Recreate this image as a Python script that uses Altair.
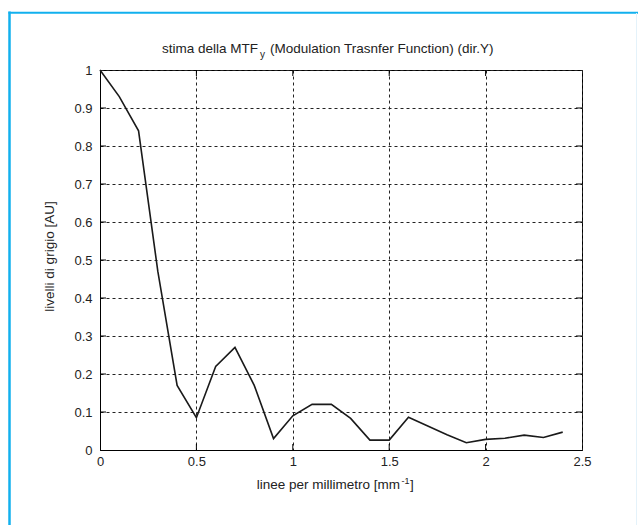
import altair as alt
import pandas as pd

# data
freq = [0.0, 0.1, 0.2, 0.3, 0.4, 0.5, 0.6, 0.7, 0.8, 0.9, 1.0, 1.1, 1.2,
        1.3, 1.4, 1.5, 1.6, 1.7, 1.8, 1.9, 2.0, 2.1, 2.2, 2.3, 2.4]
mtf = [1.0, 0.93, 0.84, 0.47, 0.17, 0.085, 0.22, 0.27, 0.17, 0.03, 0.09, 0.12, 0.12,
       0.083, 0.026, 0.026, 0.086, 0.063, 0.04, 0.019, 0.028, 0.031, 0.039, 0.033, 0.047]
x_ticks = [0, 0.5, 1, 1.5, 2, 2.5]
y_ticks = [0, 0.1, 0.2, 0.3, 0.4, 0.5, 0.6, 0.7, 0.8, 0.9, 1]
x_inner = [0.5, 1, 1.5, 2]
y_inner = [0.1, 0.2, 0.3, 0.4, 0.5, 0.6, 0.7, 0.8, 0.9]

title_main = "stima della MTF"
title_sub = "y"
title_rest = "(Modulation Trasnfer Function) (dir.Y)"
xtitle_main = "linee per millimetro [mm"
xtitle_sup = "-1"
xtitle_end = "]"
ytitle = "livelli di grigio [AU]"

FONT = "Liberation Sans"
W, H = 482, 380
BLUE = "#12B0EE"

df = pd.DataFrame({"x": freq, "y": mtf})
one = pd.DataFrame({"a": [0]})

xs = alt.Scale(domain=[0, 2.5], nice=False, zero=False)
ys = alt.Scale(domain=[0, 1], nice=False, zero=False)

common = dict(format="~g", title=None, ticks=False, grid=True, gridDash=[3, 3],
              gridColor="#222", gridOpacity=1, domainColor="black", labelColor="#222",
              labelFont=FONT, labelFontSize=13, labelOverlap=False, labelFlush=False,
              labelBound=False)
x_axis = alt.Axis(values=x_ticks, labelPadding=5, **common)
y_axis = alt.Axis(values=y_ticks, labelPadding=8, **common)

line = alt.Chart(df).mark_line(color="#1a1a1a", strokeWidth=1.6).encode(
    x=alt.X("x:Q", scale=xs, axis=x_axis),
    y=alt.Y("y:Q", scale=ys, axis=y_axis),
)

xt = pd.DataFrame({"v": x_inner})
yt = pd.DataFrame({"v": y_inner})
xt_bot = alt.Chart(xt).mark_rule(color="black").encode(
    x=alt.X("v:Q", scale=xs, axis=x_axis), y=alt.value(H), y2=alt.value(H - 6))
xt_top = alt.Chart(xt).mark_rule(color="black").encode(
    x=alt.X("v:Q", scale=xs, axis=x_axis), y=alt.value(0), y2=alt.value(6))
yt_left = alt.Chart(yt).mark_rule(color="black").encode(
    y=alt.Y("v:Q", scale=ys, axis=y_axis), x=alt.value(0), x2=alt.value(6))
yt_right = alt.Chart(yt).mark_rule(color="black").encode(
    y=alt.Y("v:Q", scale=ys, axis=y_axis), x=alt.value(W), x2=alt.value(W - 6))


def txt(s, x, y, size=13, align="left", baseline="alphabetic", angle=0):
    kw = dict(font=FONT, fontSize=size, color="#222", align=align, baseline=baseline)
    if angle:
        kw["angle"] = angle
    return alt.Chart(one).mark_text(**kw).encode(
        x=alt.value(x), y=alt.value(y), text=alt.value(s))


texts = [
    txt(title_main, 158, -17, 13.5, "right"),
    txt(title_sub, 160, -12, 10, "left"),
    txt(title_rest, 170, -17, 13.5, "left"),
    txt(xtitle_main, 300, 419, 13.5, "right"),
    txt(xtitle_sup, 301.5, 414, 9, "left"),
    txt(xtitle_end, 310, 419, 13.5, "left"),
    txt(ytitle, -50, 186.5, 13.5, "center", "middle", 270),
]

frame_left = alt.Chart(one).mark_rule(color=BLUE, strokeWidth=2.5).encode(
    x=alt.value(-90.5), y=alt.value(-58.5), y2=alt.value(460))
frame_top = alt.Chart(one).mark_rule(color=BLUE, strokeWidth=2).encode(
    x=alt.value(-91.5), x2=alt.value(540), y=alt.value(-57.3))
frame_right = alt.Chart(one).mark_rule(color="#E4F2FA", strokeWidth=1).encode(
    x=alt.value(536.5), y=alt.value(-57), y2=alt.value(460))

chart = alt.layer(line, xt_bot, xt_top, yt_left, yt_right, *texts,
                  frame_left, frame_top, frame_right).properties(
    width=W, height=H,
    autosize=alt.AutoSizeParams(type="none"),
    padding={"left": 100, "top": 70, "right": 56, "bottom": 75},
    background="white",
).configure_view(stroke="black", strokeWidth=1)

chart.save("out.html", embed_options={"renderer": "svg", "actions": False})
